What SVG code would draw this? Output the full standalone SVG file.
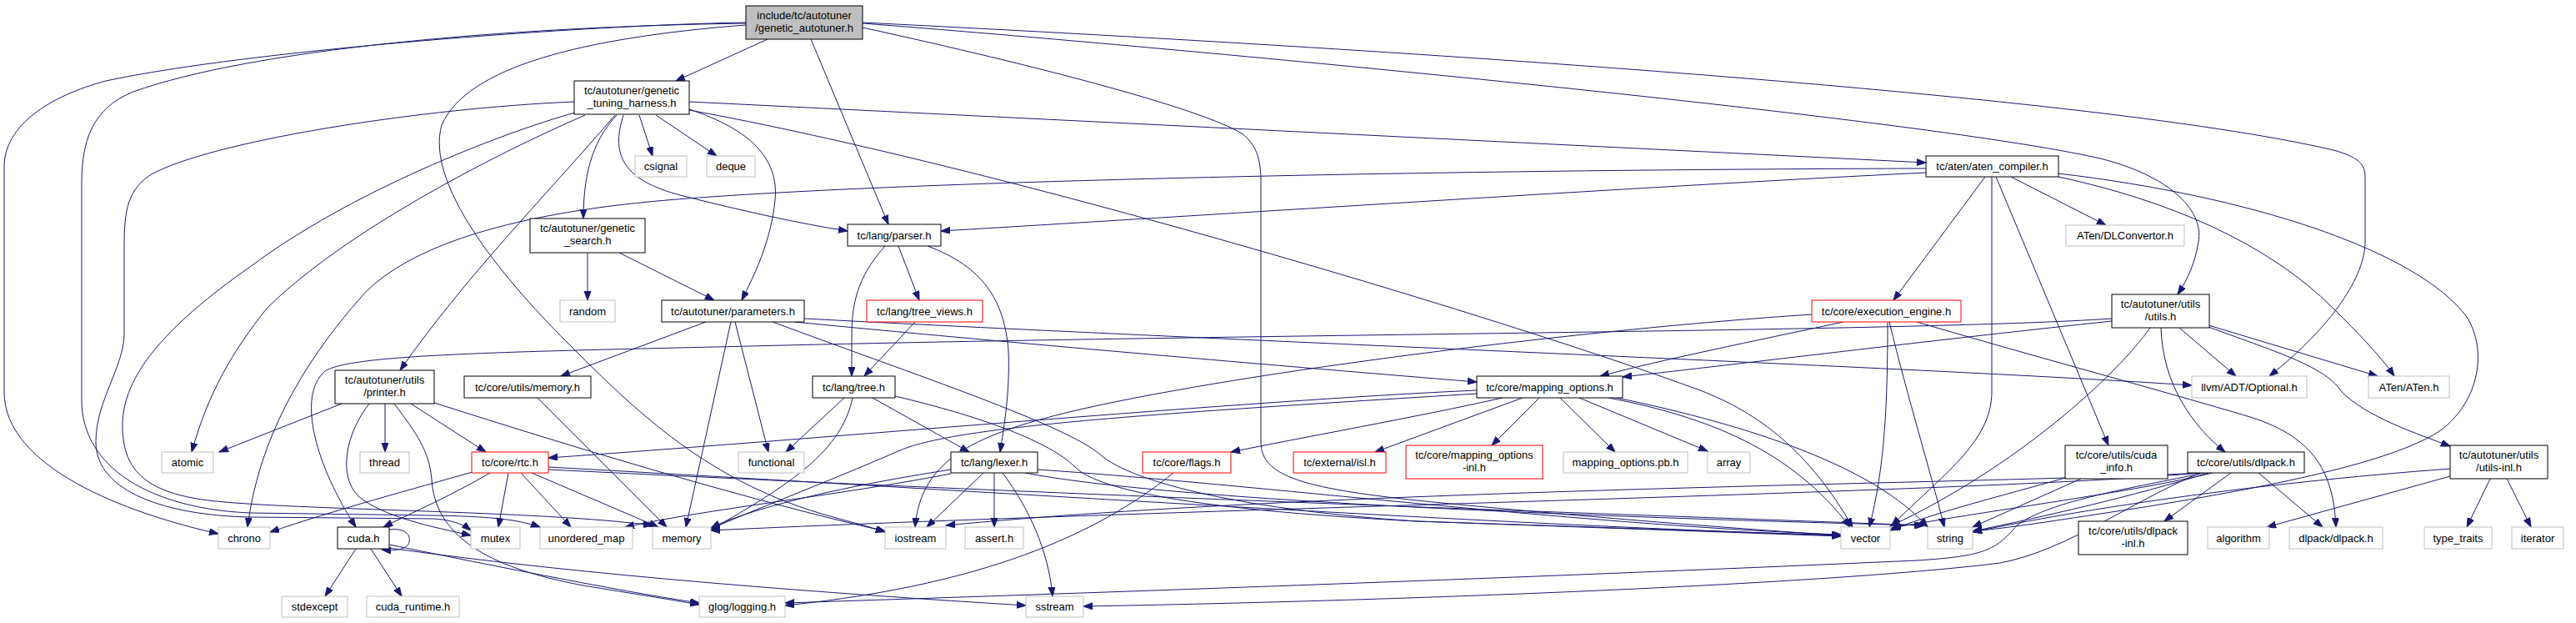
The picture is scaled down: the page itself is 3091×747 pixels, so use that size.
<svg xmlns="http://www.w3.org/2000/svg" width="3091" height="747" viewBox="0 0 3091 747">
<style>
rect{fill:#fff;stroke:#000;stroke-width:1}
.g rect{stroke:#bfbfbf}
.r rect{stroke:#ff0000}
.root rect{fill:#bfbfbf}
text{font-family:"Liberation Sans",Arial,sans-serif;font-size:13px;text-anchor:middle;fill:#000}
#edges path{fill:none;stroke:#191970;stroke-width:1;marker-end:url(#a)}
</style>
<defs>
<marker id="a" markerUnits="userSpaceOnUse" markerWidth="12" markerHeight="9" refX="11" refY="4" orient="auto">
<path d="M0,0 L11,4 L0,8 z" fill="#191970" stroke="#191970" stroke-width="1"/>
</marker>
</defs>
<rect x="0" y="0" width="3091" height="747" style="fill:#fff;stroke:none"/>
<g id="edges">
<path d="M921,47 L811,97"/>
<path d="M973,47 L1066,269"/>
<path d="M1035,28 C1400,56 2300,140 2520,190 C2600,210 2645,250 2638,290 C2634,315 2625,335 2613,353"/>
<path d="M1035,27 C1600,55 2500,110 2800,180 C2836,190 2838,200 2838,215 L2838,290 C2838,330 2800,390 2723,451"/>
<path d="M895,27 C700,30 300,60 127,97 C60,115 5,150 5,200 L5,470 C5,560 150,615 262,640"/>
<path d="M895,28 C600,32 300,60 160,110 C110,130 98,170 98,220 L98,480 C98,560 180,610 300,615 L520,618 C580,619 620,622 648,632"/>
<path d="M895,30 C700,45 560,80 530,150 C510,220 600,330 680,410 C760,490 850,580 1000,620 C1020,626 1040,630 1062,638"/>
<path d="M1035,33 C1250,80 1440,130 1490,160 C1510,175 1513,195 1513,220 L1513,530 C1513,570 1560,585 1700,600 C1900,620 2100,635 2209,642"/>
<path d="M689,122 C500,130 250,170 180,210 C150,230 149,260 149,300 L149,400 C149,440 115,480 115,530 C115,590 200,618 300,620 L520,622 C540,623 555,628 565,636"/>
<path d="M690,135 C600,160 420,230 300,320 C200,390 147,450 147,510 C147,560 170,590 250,600 C350,612 650,612 783,630"/>
<path d="M767,138 L783,187"/>
<path d="M787,138 L860,187"/>
<path d="M740,138 C715,165 700,200 700,262"/>
<path d="M827,131 C900,155 935,190 930,240 C925,290 905,330 890,360"/>
<path d="M748,138 C735,180 740,215 820,235 C900,255 960,268 1017,277"/>
<path d="M738,138 C650,240 560,330 480,444"/>
<path d="M702,138 C560,200 400,290 320,370 C280,420 250,470 230,542"/>
<path d="M827,122 L2311,195"/>
<path d="M827,132 C1200,200 1800,380 2040,468 C2110,495 2170,540 2223,632"/>
<path d="M705,303 L705,360"/>
<path d="M743,303 L857,360"/>
<path d="M847,386 L673,451"/>
<path d="M882,386 L922,542"/>
<path d="M877,386 L823,632"/>
<path d="M953,386 C1200,410 1550,440 1772,458"/>
<path d="M927,386 C1100,450 1280,510 1320,545 C1360,580 1500,612 1700,625 L2209,643"/>
<path d="M965,382 C1500,410 2300,440 2630,462"/>
<path d="M645,477 L800,632"/>
<path d="M1078,295 L1103,360"/>
<path d="M1062,295 C1035,325 1022,355 1022,400 L1022,451"/>
<path d="M1113,295 C1180,320 1205,360 1210,420 C1212,470 1205,510 1200,542"/>
<path d="M1098,386 L1037,451"/>
<path d="M1013,477 L943,542"/>
<path d="M1023,477 C1010,540 950,580 853,635"/>
<path d="M1047,477 L1163,542"/>
<path d="M1074,475 C1180,500 1260,530 1290,560 C1320,590 1450,612 1700,625 L2209,642"/>
<path d="M1180,567 L1112,632"/>
<path d="M1193,567 L1193,632"/>
<path d="M1203,567 C1235,610 1258,660 1263,715"/>
<path d="M1141,563 C1000,585 900,610 853,633"/>
<path d="M1141,568 C1000,595 850,610 750,632"/>
<path d="M1245,563 C1500,580 1900,630 2209,641"/>
<path d="M1230,567 C1400,600 1900,620 2308,630"/>
<path d="M1408,567 C1330,630 1200,700 942,726"/>
<path d="M567,566 C500,585 400,612 324,638"/>
<path d="M588,567 C540,595 500,612 460,632"/>
<path d="M610,567 L598,632"/>
<path d="M625,567 L685,632"/>
<path d="M638,567 L790,632"/>
<path d="M658,560 C1200,590 1800,630 2209,642"/>
<path d="M658,563 C1300,595 1900,615 2310,630"/>
<path d="M410,484 L263,542"/>
<path d="M462,484 L462,542"/>
<path d="M493,484 L583,542"/>
<path d="M473,484 C500,520 515,540 518,575 C522,640 580,680 700,702 C760,712 800,718 839,725"/>
<path d="M521,483 C700,540 900,600 1062,637"/>
<path d="M443,484 C415,520 405,570 430,595 C460,620 520,632 565,642"/>
<path d="M427,658 L390,715"/>
<path d="M445,658 L482,715"/>
<path d="M467,653 C600,680 750,710 839,723"/>
<path d="M467,657 C700,690 1000,712 1231,726"/>
<path d="M467,635 C485,633 493,640 491,650 C489,658 478,661 458,659"/>
<path d="M2534,382 C2300,398 1500,400 900,415 C600,422 420,425 390,445 C355,475 380,560 427,632"/>
<path d="M2534,385 C2300,410 2100,435 1947,452"/>
<path d="M2580,393 C2540,450 2420,560 2268,631"/>
<path d="M2593,393 C2595,460 2630,510 2670,542"/>
<path d="M2615,393 L2683,451"/>
<path d="M2650,390 L2853,451"/>
<path d="M2650,392 C2740,425 2790,440 2810,470 C2840,500 2900,520 2940,535"/>
<path d="M2382,212 L2272,360"/>
<path d="M2390,212 L2390,470 C2390,530 2330,570 2270,630"/>
<path d="M2395,212 L2530,534"/>
<path d="M2413,212 L2527,270"/>
<path d="M2470,212 C2600,240 2720,290 2800,370 C2830,400 2855,425 2873,451"/>
<path d="M2470,208 C2700,235 2900,300 2960,380 C2985,420 2975,480 2930,515 C2880,550 2750,580 2560,610 C2480,622 2420,632 2367,637"/>
<path d="M2311,207 C2000,222 1500,255 1129,277"/>
<path d="M2311,202 C1800,203 1100,215 800,240 C600,257 480,300 430,360 C360,440 310,530 297,632"/>
<path d="M2174,377 C1900,395 1500,445 1300,490 C1170,520 1105,550 1098,632"/>
<path d="M2212,386 C2100,410 2000,430 1920,451"/>
<path d="M2265,386 C2265,480 2262,560 2243,632"/>
<path d="M2267,386 C2290,480 2315,560 2333,632"/>
<path d="M2300,386 C2450,430 2600,470 2700,500 C2780,525 2800,570 2803,632"/>
<path d="M1803,477 C1700,500 1560,525 1477,542"/>
<path d="M1827,477 L1650,542"/>
<path d="M1847,477 L1790,534"/>
<path d="M1872,477 L1938,542"/>
<path d="M1895,477 L2049,541"/>
<path d="M1772,468 C1500,480 1000,525 658,549"/>
<path d="M1772,472 C1400,495 1150,510 1080,540 C1000,575 920,605 853,634"/>
<path d="M1930,477 C2050,500 2150,540 2220,632"/>
<path d="M1940,477 C2100,510 2250,560 2313,632"/>
<path d="M2677,567 L2597,625"/>
<path d="M2710,567 L2787,632"/>
<path d="M2655,567 C2560,590 2400,610 2270,633"/>
<path d="M2650,567 C2560,595 2450,620 2367,637"/>
<path d="M2640,567 C2560,600 2480,660 2400,675 C2200,700 1700,720 1300,727"/>
<path d="M2645,567 C2560,585 2460,600 2420,630 C2395,660 2380,667 2300,672 C1900,690 1400,708 942,723"/>
<path d="M2640,567 C2400,580 1600,585 1135,630"/>
<path d="M2640,567 C2400,590 1400,610 853,636"/>
<path d="M2478,573 C2400,595 2320,615 2268,636"/>
<path d="M2497,574 L2367,632"/>
<path d="M2988,574 L2960,632"/>
<path d="M3008,574 L3037,632"/>
<path d="M2940,571 L2720,632"/>
<path d="M2940,562 C2700,580 2500,610 2367,638"/>
</g>
<g id="n_root" class="root"><rect x="895" y="7" width="140" height="40"/><text x="965" y="22.5">include/tc/autotuner</text><text x="965" y="37.5">/genetic_autotuner.h</text></g>
<g id="n_harness"><rect x="689" y="97" width="138" height="40"/><text x="758" y="112.5">tc/autotuner/genetic</text><text x="758" y="127.5">_tuning_harness.h</text></g>
<g id="n_csignal" class="g"><rect x="762" y="187" width="62" height="25"/><text x="793" y="204">csignal</text></g>
<g id="n_deque" class="g"><rect x="848" y="187" width="58" height="25"/><text x="877" y="204">deque</text></g>
<g id="n_search"><rect x="636" y="262" width="138" height="41"/><text x="705" y="278">tc/autotuner/genetic</text><text x="705" y="292.5">_search.h</text></g>
<g id="n_random" class="g"><rect x="672" y="360" width="66" height="26"/><text x="705" y="377.5">random</text></g>
<g id="n_parameters"><rect x="794" y="360" width="171" height="26"/><text x="879.5" y="377.5">tc/autotuner/parameters.h</text></g>
<g id="n_parser"><rect x="1017" y="269" width="112" height="26"/><text x="1073" y="286.5">tc/lang/parser.h</text></g>
<g id="n_tree_views" class="r"><rect x="1040" y="360" width="139" height="26"/><text x="1109.5" y="377.5">tc/lang/tree_views.h</text></g>
<g id="n_tree"><rect x="975" y="451" width="99" height="26"/><text x="1024.5" y="468.5">tc/lang/tree.h</text></g>
<g id="n_lexer"><rect x="1141" y="542" width="104" height="25"/><text x="1193" y="559">tc/lang/lexer.h</text></g>
<g id="n_flags" class="r"><rect x="1371" y="542" width="106" height="25"/><text x="1424" y="559">tc/core/flags.h</text></g>
<g id="n_iostream" class="g"><rect x="1062" y="632" width="73" height="26"/><text x="1098.5" y="649.5">iostream</text></g>
<g id="n_assert" class="g"><rect x="1158" y="632" width="70" height="26"/><text x="1193" y="649.5">assert.h</text></g>
<g id="n_sstream" class="g"><rect x="1231" y="715" width="69" height="25"/><text x="1265.5" y="732">sstream</text></g>
<g id="n_functional" class="g"><rect x="886" y="542" width="79" height="25"/><text x="925.5" y="559">functional</text></g>
<g id="n_umemory"><rect x="557" y="451" width="152" height="26"/><text x="633" y="468.5">tc/core/utils/memory.h</text></g>
<g id="n_rtc" class="r"><rect x="566" y="542" width="92" height="25"/><text x="612" y="559">tc/core/rtc.h</text></g>
<g id="n_mutex" class="g"><rect x="565" y="632" width="59" height="26"/><text x="594.5" y="649.5">mutex</text></g>
<g id="n_umap" class="g"><rect x="648" y="632" width="111" height="26"/><text x="703.5" y="649.5">unordered_map</text></g>
<g id="n_memory" class="g"><rect x="783" y="632" width="70" height="26"/><text x="818" y="649.5">memory</text></g>
<g id="n_glog" class="g"><rect x="839" y="715" width="103" height="25"/><text x="890.5" y="732">glog/logging.h</text></g>
<g id="n_printer"><rect x="402" y="444" width="119" height="40"/><text x="461.5" y="459.5">tc/autotuner/utils</text><text x="461.5" y="474.5">/printer.h</text></g>
<g id="n_atomic" class="g"><rect x="194" y="542" width="62" height="25"/><text x="225" y="559">atomic</text></g>
<g id="n_thread" class="g"><rect x="432" y="542" width="59" height="25"/><text x="461.5" y="559">thread</text></g>
<g id="n_chrono" class="g"><rect x="262" y="632" width="62" height="26"/><text x="293" y="649.5">chrono</text></g>
<g id="n_cuda"><rect x="405" y="632" width="62" height="26"/><text x="436" y="649.5">cuda.h</text></g>
<g id="n_stdexcept" class="g"><rect x="338" y="715" width="79" height="25"/><text x="377.5" y="732">stdexcept</text></g>
<g id="n_cuda_runtime" class="g"><rect x="440" y="715" width="111" height="25"/><text x="495.5" y="732">cuda_runtime.h</text></g>
<g id="n_aten_compiler"><rect x="2311" y="187" width="159" height="25"/><text x="2390.5" y="204">tc/aten/aten_compiler.h</text></g>
<g id="n_dlconvertor" class="g"><rect x="2479" y="270" width="142" height="25"/><text x="2550" y="287">ATen/DLConvertor.h</text></g>
<g id="n_exec" class="r"><rect x="2174" y="360" width="179" height="26"/><text x="2263.5" y="377.5">tc/core/execution_engine.h</text></g>
<g id="n_utils"><rect x="2534" y="353" width="117" height="40"/><text x="2592.5" y="368.5">tc/autotuner/utils</text><text x="2592.5" y="383.5">/utils.h</text></g>
<g id="n_mapping"><rect x="1772" y="451" width="175" height="26"/><text x="1859.5" y="468.5">tc/core/mapping_options.h</text></g>
<g id="n_isl" class="r"><rect x="1552" y="542" width="111" height="25"/><text x="1607.5" y="559">tc/external/isl.h</text></g>
<g id="n_mapping_inl" class="r"><rect x="1687" y="534" width="164" height="40"/><text x="1769" y="549.5">tc/core/mapping_options</text><text x="1769" y="564.5">-inl.h</text></g>
<g id="n_mapping_pb" class="g"><rect x="1876" y="542" width="149" height="25"/><text x="1950.5" y="559">mapping_options.pb.h</text></g>
<g id="n_array" class="g"><rect x="2049" y="542" width="51" height="25"/><text x="2074.5" y="559">array</text></g>
<g id="n_vector" class="g"><rect x="2209" y="632" width="59" height="26"/><text x="2238.5" y="649.5">vector</text></g>
<g id="n_string" class="g"><rect x="2313" y="632" width="54" height="26"/><text x="2340" y="649.5">string</text></g>
<g id="n_cuda_info"><rect x="2478" y="534" width="123" height="40"/><text x="2539.5" y="549.5">tc/core/utils/cuda</text><text x="2539.5" y="564.5">_info.h</text></g>
<g id="n_dlpack_inl"><rect x="2494" y="625" width="131" height="40"/><text x="2559.5" y="640.5">tc/core/utils/dlpack</text><text x="2559.5" y="655.5">-inl.h</text></g>
<g id="n_dlpack"><rect x="2625" y="542" width="140" height="25"/><text x="2695" y="559">tc/core/utils/dlpack.h</text></g>
<g id="n_optional" class="g"><rect x="2630" y="451" width="138" height="26"/><text x="2699" y="468.5">llvm/ADT/Optional.h</text></g>
<g id="n_aten" class="g"><rect x="2842" y="451" width="97" height="26"/><text x="2890.5" y="468.5">ATen/ATen.h</text></g>
<g id="n_utils_inl"><rect x="2940" y="534" width="117" height="40"/><text x="2998.5" y="549.5">tc/autotuner/utils</text><text x="2998.5" y="564.5">/utils-inl.h</text></g>
<g id="n_algorithm" class="g"><rect x="2649" y="632" width="74" height="26"/><text x="2686" y="649.5">algorithm</text></g>
<g id="n_dlpack_dlpack" class="g"><rect x="2747" y="632" width="112" height="26"/><text x="2803" y="649.5">dlpack/dlpack.h</text></g>
<g id="n_type_traits" class="g"><rect x="2909" y="632" width="81" height="26"/><text x="2949.5" y="649.5">type_traits</text></g>
<g id="n_iterator" class="g"><rect x="3014" y="632" width="62" height="26"/><text x="3045" y="649.5">iterator</text></g>
</svg>
